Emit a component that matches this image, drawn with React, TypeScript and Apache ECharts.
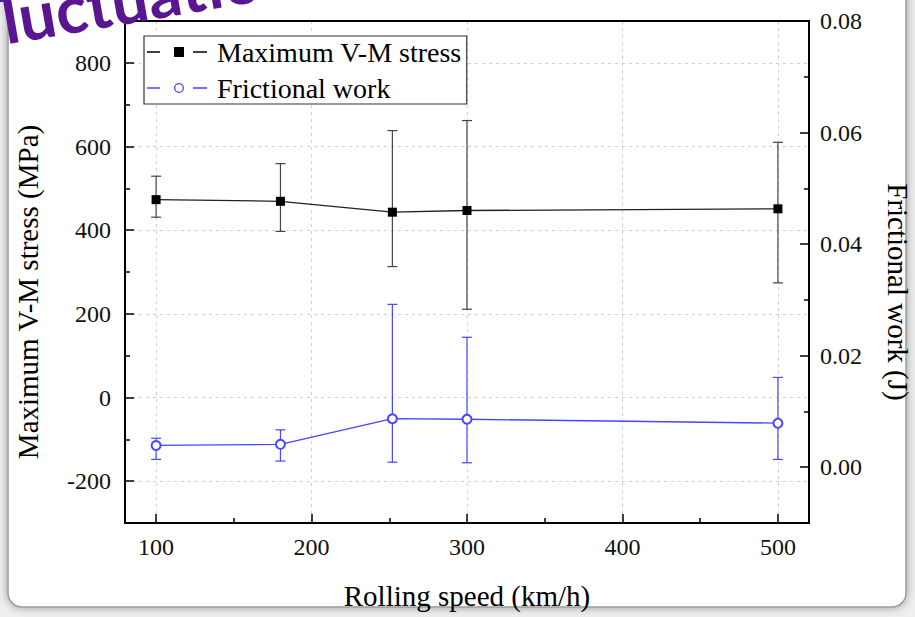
import React, { useEffect, useRef } from "react";
import * as echarts from "echarts";

// ---- data ----
const speeds = [100, 180, 252, 300, 500];
const stress = [473, 469, 443, 447, 451];
const stressLow = [431, 397, 313, 211, 274];
const stressHigh = [529, 559, 638, 662, 610];
const work = [0.0039, 0.0041, 0.0087, 0.0086, 0.0079];
const workLow = [0.0014, 0.0011, 0.0009, 0.0008, 0.0014];
const workHigh = [0.0052, 0.0067, 0.0292, 0.0233, 0.0161];

const seriesNames = ["Maximum V-M stress", "Frictional work"];
const xTitle = "Rolling speed (km/h)";
const yLeftTitle = "Maximum V-M stress (MPa)";
const yRightTitle = "Frictional work (J)";
const slideTitle = "fluctuation";

const BLUE = "#4646ff";
const FONT = '"Liberation Serif", "Times New Roman", serif';

const BLACK_ICON =
  "path://M0 4.3 h13 v1.4 h-13 Z M27 0 h10 v10 h-10 Z M46 4.3 h14 v1.4 h-14 Z";
const BLUE_ICON =
  "path://M0 4.3 h13 v1.4 h-13 Z M27 5 a5 5 0 1 0 10 0 a5 5 0 1 0 -10 0 Z M28.3 5 a3.7 3.7 0 1 1 7.4 0 a3.7 3.7 0 1 1 -7.4 0 Z M46 4.3 h14 v1.4 h-14 Z";

function errRender(color: string) {
  return (params: any, api: any) => {
    const x = api.value(0);
    const lo = api.coord([x, api.value(1)]);
    const hi = api.coord([x, api.value(2)]);
    const w = 5;
    const st = { stroke: color, lineWidth: 1.2 };
    return {
      type: "group",
      children: [
        { type: "line", shape: { x1: lo[0], y1: lo[1], x2: hi[0], y2: hi[1] }, style: st },
        { type: "line", shape: { x1: hi[0] - w, y1: hi[1], x2: hi[0] + w, y2: hi[1] }, style: st },
        { type: "line", shape: { x1: lo[0] - w, y1: lo[1], x2: lo[0] + w, y2: lo[1] }, style: st },
      ],
    };
  };
}

const axisLine = { show: true, onZero: false, lineStyle: { color: "#000", width: 2 } };
const axisTick = { show: true, inside: true, length: 9, lineStyle: { color: "#000", width: 1.5 } };
const minorTick = { show: true, splitNumber: 2, length: 5, lineStyle: { color: "#000", width: 1.5 } };
const gridLine = {
  show: true,
  showMinLine: false,
  showMaxLine: false,
  lineStyle: { color: "#cfcfcf", type: [3, 4], width: 1 },
};

export default function App() {
  const ref = useRef<HTMLDivElement>(null);
  useEffect(() => {
    if (!ref.current) return;
    const chart = echarts.init(ref.current, undefined, { renderer: "svg" });
    const option: any = {
      animation: false,
      backgroundColor: "#efefef",
      textStyle: { fontFamily: FONT },
      graphic: [
        {
          type: "rect",
          z: -10,
          silent: true,
          shape: { x: 8, y: -30, width: 898, height: 637, r: 14 },
          style: {
            fill: "#fff",
            stroke: "#9a9a9a",
            lineWidth: 1.5,
            shadowBlur: 10,
            shadowColor: "rgba(0,0,0,0.35)",
          },
        },
        {
          type: "text",
          z: 10,
          silent: true,
          x: -16,
          y: 56,
          rotation: 0.17,
          style: {
            text: slideTitle,
            fontSize: 66,
            fontWeight: "bold",
            fontFamily: "Lato, sans-serif",
            fill: "#5a1690",
            verticalAlign: "bottom",
            shadowColor: "rgba(0,0,0,0.35)",
            shadowBlur: 4,
            shadowOffsetX: 3,
            shadowOffsetY: 5,
          },
        },
      ],
      grid: {
        left: 125,
        right: 106,
        top: 21,
        bottom: 94,
        show: true,
        borderColor: "#000",
        borderWidth: 2,
        backgroundColor: "transparent",
        containLabel: false,
        outerBoundsMode: "none",
        z: 3,
      },
      legend: {
        left: 144,
        top: 36,
        orient: "vertical",
        padding: [1, 5, 1, 3],
        itemGap: 6,
        itemWidth: 60,
        itemHeight: 10,
        borderColor: "#333",
        borderWidth: 1.2,
        backgroundColor: "#fff",
        itemStyle: { borderWidth: 0 },
        textStyle: { fontSize: 28, color: "#000", lineHeight: 30, padding: [0, 0, 0, 5], fontFamily: FONT },
        data: [
          { name: seriesNames[0], icon: BLACK_ICON },
          { name: seriesNames[1], icon: BLUE_ICON },
        ],
      },
      xAxis: {
        type: "value",
        min: 80,
        max: 520,
        minInterval: 100,
        maxInterval: 100,
        name: xTitle,
        nameLocation: "middle",
        nameGap: 58,
        nameTextStyle: { fontSize: 29, color: "#000", fontFamily: FONT },
        axisLine,
        axisTick,
        minorTick,
        axisLabel: {
          fontSize: 24,
          color: "#111",
          margin: 12,
          fontFamily: FONT,
          formatter: (v: number) => (v % 100 === 0 ? String(v) : ""),
        },
        splitLine: gridLine,
      },
      yAxis: [
        {
          type: "value",
          position: "left",
          min: -300,
          max: 900,
          minInterval: 200,
          maxInterval: 200,
          name: yLeftTitle,
          nameLocation: "middle",
          nameGap: 83,
          nameTextStyle: { fontSize: 29, color: "#000", fontFamily: FONT, padding: [0, 40, 0, 0] },
          axisLine,
          axisTick,
          minorTick,
          axisLabel: {
            fontSize: 24,
            color: "#111",
            margin: 14,
            fontFamily: FONT,
            formatter: (v: number) => (Math.round(v) % 200 === 0 ? String(Math.round(v)) : ""),
          },
          splitLine: gridLine,
        },
        {
          type: "value",
          position: "right",
          min: -0.01,
          max: 0.08,
          minInterval: 0.02,
          maxInterval: 0.02,
          name: yRightTitle,
          nameLocation: "middle",
          nameRotate: -90,
          nameGap: 74,
          nameTextStyle: { fontSize: 29, color: "#000", fontFamily: FONT, padding: [0, 0, 0, 40] },
          axisLine,
          axisTick,
          minorTick,
          axisLabel: {
            fontSize: 24,
            color: "#111",
            margin: 11,
            fontFamily: FONT,
            formatter: (v: number) => {
              const k = Math.round(v * 100);
              return k >= 0 && k % 2 === 0 ? (k / 100).toFixed(2) : "";
            },
          },
          splitLine: { show: false },
        },
      ],
      series: [
        {
          type: "custom",
          name: "stress error",
          renderItem: errRender("#444"),
          data: speeds.map((s, i) => [s, stressLow[i], stressHigh[i]]),
          encode: { x: 0, y: [1, 2] },
          z: 2,
        },
        {
          type: "custom",
          name: "work error",
          yAxisIndex: 1,
          renderItem: errRender(BLUE),
          data: speeds.map((s, i) => [s, workLow[i], workHigh[i]]),
          encode: { x: 0, y: [1, 2] },
          z: 2,
        },
        {
          name: seriesNames[0],
          type: "line",
          data: speeds.map((s, i) => [s, stress[i]]),
          symbol: "rect",
          symbolSize: 9,
          lineStyle: { color: "#222", width: 1.3 },
          itemStyle: { color: "#000" },
          z: 3,
        },
        {
          name: seriesNames[1],
          type: "line",
          yAxisIndex: 1,
          data: speeds.map((s, i) => [s, work[i]]),
          symbol: "emptyCircle",
          symbolSize: 9,
          lineStyle: { color: BLUE, width: 1.3 },
          itemStyle: { color: BLUE, borderWidth: 1.5 },
          z: 3,
        },
      ],
    };
    chart.setOption(option);
    return () => chart.dispose();
  }, []);
  return (
    <div
      ref={ref}
      style={{ position: "fixed", left: 0, top: 0, width: 915, height: 617 }}
    />
  );
}
